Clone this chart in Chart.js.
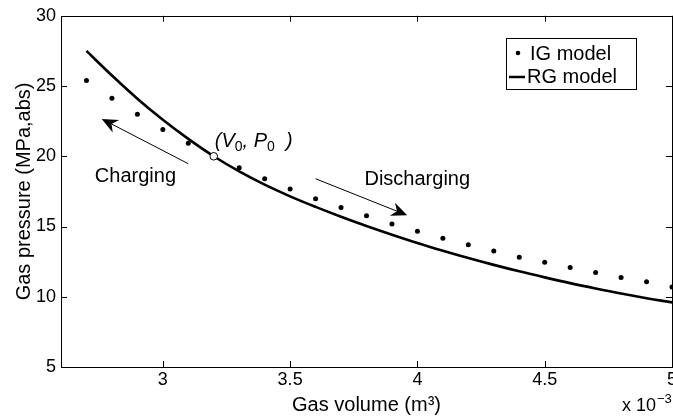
<!DOCTYPE html>
<html>
<head>
<meta charset="utf-8">
<script src="https://cdn.jsdelivr.net/npm/chart.js@4.4.0/dist/chart.umd.min.js"></script>
<style>
  html, body { margin: 0; padding: 0; background: #fff; overflow: hidden; }
  #wrap { width: 673px; height: 419px; overflow: hidden; }
  canvas { display: block; }
</style>
</head>
<body>
<div id="wrap"><canvas id="chart" width="700" height="419"></canvas></div>
<script>
// Gas volume (x 10^-3 m^3)
const volumes = [2.7, 2.8, 2.9, 3.0, 3.1, 3.2, 3.3, 3.4, 3.5, 3.6, 3.7, 3.8,
  3.9, 4.0, 4.1, 4.2, 4.3, 4.4, 4.5, 4.6, 4.7, 4.8, 4.9, 5.0];

// Ideal gas model (dots)
const igPressure = [25.4, 24.13, 22.99, 21.9, 20.93, 20.0, 19.18, 18.4, 17.67, 16.98, 16.36, 15.77,
  15.18, 14.66, 14.16, 13.71, 13.26, 12.81, 12.46, 12.08, 11.73, 11.37, 11.06, 10.7];

// Real gas model (solid line)
const rgPressure = [27.5, 25.75, 24.1, 22.6, 21.24, 20.0, 18.92, 17.98, 17.15, 16.4, 15.7, 15.04,
  14.42, 13.83, 13.28, 12.76, 12.27, 11.81, 11.38, 10.97, 10.59, 10.23, 9.9, 9.6];

const refPoint = [{ x: 3.2, y: 20 }];
const xTicks = [3, 3.5, 4, 4.5, 5];
const yTicks = [5, 10, 15, 20, 25, 30];

// annotation anchors, in data units
const chargingArrow = { from: [3.1, 19.47], to: [2.76, 22.66] };
const dischargingArrow = { from: [3.6, 18.4], to: [3.96, 15.8] };
const chargingLabel = { x: 2.733, y: 18.16, text: 'Charging' };
const dischargingLabel = { x: 3.792, y: 17.93, text: 'Discharging' };
const refLabel = { x: 3.204, y: 20.65 };

const FONT = '"Liberation Sans", Arial, Helvetica, sans-serif';

function drawArrow(ctx, x1, y1, x2, y2) {
  const ang = Math.atan2(y2 - y1, x2 - x1);
  const len = 16, half = 7, notch = 11;
  ctx.save();
  ctx.strokeStyle = '#000';
  ctx.fillStyle = '#000';
  ctx.lineWidth = 1;
  ctx.beginPath();
  ctx.moveTo(x1, y1);
  ctx.lineTo(x2 - Math.cos(ang) * notch, y2 - Math.sin(ang) * notch);
  ctx.stroke();
  ctx.translate(x2, y2);
  ctx.rotate(ang);
  ctx.beginPath();
  ctx.moveTo(0, 0);
  ctx.lineTo(-len, -half);
  ctx.lineTo(-notch, 0);
  ctx.lineTo(-len, half);
  ctx.closePath();
  ctx.fill();
  ctx.restore();
}

const matlabFrame = {
  id: 'matlabFrame',
  afterDatasetsDraw(chart) {
    const { ctx, chartArea: a, scales: { x, y } } = chart;
    ctx.save();
    ctx.strokeStyle = '#000';
    ctx.lineWidth = 1;
    ctx.strokeRect(Math.round(a.left) + 0.5, Math.round(a.top) + 0.5,
      Math.round(a.right - a.left), Math.round(a.bottom - a.top));
    // inward ticks on all four sides
    ctx.beginPath();
    xTicks.forEach(v => {
      const px = Math.round(x.getPixelForValue(v)) + 0.5;
      ctx.moveTo(px, a.bottom); ctx.lineTo(px, a.bottom - 6);
      ctx.moveTo(px, a.top); ctx.lineTo(px, a.top + 6);
    });
    yTicks.forEach(v => {
      const py = Math.round(y.getPixelForValue(v)) + 0.5;
      ctx.moveTo(a.left, py); ctx.lineTo(a.left + 6, py);
      ctx.moveTo(a.right, py); ctx.lineTo(a.right - 6, py);
    });
    ctx.stroke();

    // arrows and labels
    drawArrow(ctx,
      x.getPixelForValue(chargingArrow.from[0]), y.getPixelForValue(chargingArrow.from[1]),
      x.getPixelForValue(chargingArrow.to[0]), y.getPixelForValue(chargingArrow.to[1]));
    drawArrow(ctx,
      x.getPixelForValue(dischargingArrow.from[0]), y.getPixelForValue(dischargingArrow.from[1]),
      x.getPixelForValue(dischargingArrow.to[0]), y.getPixelForValue(dischargingArrow.to[1]));

    ctx.fillStyle = '#000';
    ctx.textBaseline = 'alphabetic';
    ctx.textAlign = 'left';
    ctx.font = '20px ' + FONT;
    [chargingLabel, dischargingLabel].forEach(l => {
      ctx.fillText(l.text, x.getPixelForValue(l.x), y.getPixelForValue(l.y));
    });

    // (V0, P0 )
    let tx = x.getPixelForValue(refLabel.x);
    const ty = y.getPixelForValue(refLabel.y);
    const parts = [
      ['(V', 'italic 20px ' + FONT, 0],
      ['0', '14px ' + FONT, 4],
      [', P', 'italic 20px ' + FONT, 0],
      ['0', '14px ' + FONT, 4],
      ['  )', 'italic 20px ' + FONT, 0]
    ];
    parts.forEach(([t, f, dy]) => {
      ctx.font = f;
      ctx.fillText(t, tx, ty + dy);
      tx += ctx.measureText(t).width;
    });

    // x 10^-3 multiplier
    ctx.font = '18px ' + FONT;
    ctx.fillText('x 10', 622, 411);
    const w = ctx.measureText('x 10').width;
    ctx.font = '13px ' + FONT;
    ctx.fillText('\u22123', 622 + w + 1, 403);

    // legend box
    const lx = 506, ly = 38, lw = 130, lh = 51;
    ctx.fillStyle = '#fff';
    ctx.fillRect(lx, ly, lw, lh);
    ctx.strokeStyle = '#000';
    ctx.lineWidth = 1;
    ctx.strokeRect(lx + 0.5, ly + 0.5, lw, lh);
    ctx.fillStyle = '#000';
    ctx.beginPath();
    ctx.arc(lx + 12, ly + 15, 2.3, 0, Math.PI * 2);
    ctx.fill();
    ctx.lineWidth = 2.5;
    ctx.beginPath();
    ctx.moveTo(lx + 3, ly + 39);
    ctx.lineTo(lx + 19, ly + 39);
    ctx.stroke();
    ctx.font = '20px ' + FONT;
    ctx.textBaseline = 'middle';
    ctx.fillText(chart.data.datasets[2].label, lx + 24, ly + 16);
    ctx.fillText(chart.data.datasets[1].label, lx + 21, ly + 39);
    ctx.restore();
  }
};

new Chart(document.getElementById('chart').getContext('2d'), {
  type: 'scatter',
  data: {
    datasets: [
      {
        label: '(V0, P0)',
        data: refPoint,
        pointRadius: 3.8,
        pointBackgroundColor: '#fff',
        pointBorderColor: '#000',
        pointBorderWidth: 1,
        order: 0
      },
      {
        label: 'RG model',
        data: volumes.map((v, i) => ({ x: v, y: rgPressure[i] })),
        showLine: true,
        borderColor: '#000',
        borderWidth: 2.6,
        pointRadius: 0,
        tension: 0.4,
        order: 1
      },
      {
        label: 'IG model',
        data: volumes.map((v, i) => ({ x: v, y: igPressure[i] })),
        showLine: false,
        pointRadius: 2.5,
        pointBackgroundColor: '#000',
        pointBorderWidth: 0,
        order: 2
      }
    ]
  },
  options: {
    responsive: false,
    animation: false,
    layout: { padding: { left: 0, top: 15, right: 28, bottom: 0 } },
    plugins: {
      legend: { display: false },
      tooltip: { enabled: false }
    },
    scales: {
      x: {
        type: 'linear',
        min: 2.6,
        max: 5,
        afterBuildTicks: s => { s.ticks = xTicks.map(v => ({ value: v })); },
        afterFit: s => { s.height = 52; },
        grid: { display: false, drawTicks: false },
        border: { display: false },
        ticks: {
          color: '#000',
          padding: 2,
          maxRotation: 0,
          font: { family: FONT, size: 18 },
          callback: v => String(v)
        },
        title: {
          display: true,
          text: 'Gas volume (m\u00B3)',
          color: '#000',
          font: { family: FONT, size: 20 },
          padding: { top: 0, bottom: 2 }
        }
      },
      y: {
        min: 5,
        max: 30,
        afterBuildTicks: s => { s.ticks = yTicks.map(v => ({ value: v })); },
        afterFit: s => { s.width = 61; },
        grid: { display: false, drawTicks: false },
        border: { display: false },
        ticks: {
          color: '#000',
          padding: 5,
          font: { family: FONT, size: 18 },
          callback: v => String(v)
        },
        title: {
          display: true,
          text: 'Gas pressure (MPa,abs)',
          color: '#000',
          font: { family: FONT, size: 20 },
          padding: { top: 12, bottom: 0 }
        }
      }
    }
  },
  plugins: [matlabFrame]
});
</script>
</body>
</html>
